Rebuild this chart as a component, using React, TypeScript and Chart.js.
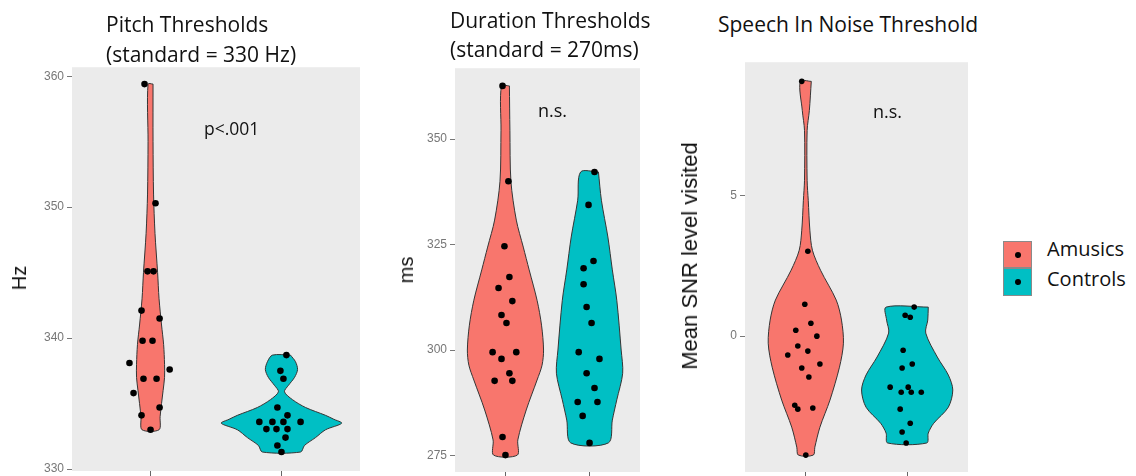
import React, { useEffect, useRef } from "react";
import { Chart, registerables } from "chart.js";

Chart.register(...registerables);

// ---------- data ----------
const groups = ["Amusics", "Controls"];
const groupFills = ["#F8766D", "#00BFC4"];

const pitchTicks = [330, 340, 350, 360];
const durationTicks = [275, 300, 325, 350];
const speechTicks = [0, 5];

// individual thresholds (y) with their horizontal jitter (category units)
const pitchAmusics = [359.4, 350.3, 345.1, 345.1, 342.1, 341.5, 339.8, 339.8, 338.1, 337.6, 336.9, 336.9, 335.8, 334.7, 334.1, 333.0];
const pitchAmusicsJitter = [-0.046, 0.038, -0.023, 0.023, -0.069, 0.069, -0.061, 0.015, -0.161, 0.146, -0.054, 0.046, -0.13, 0.069, -0.069, 0];
const pitchControls = [338.7, 337.5, 336.9, 334.7, 334.1, 333.6, 333.6, 333.6, 333.6, 333.05, 333.05, 333.05, 332.4, 331.8, 331.3];
const pitchControlsJitter = [0.038, -0.008, 0.015, -0.031, 0.046, -0.169, -0.069, 0.015, 0.146, -0.115, -0.038, 0.046, 0.031, -0.031, 0];

const durationAmusics = [362.6, 340.0, 324.6, 317.3, 314.7, 311.6, 308.3, 306.4, 299.5, 299.5, 297.9, 294.5, 292.7, 292.7, 279.4, 275.1];
const durationAmusicsJitter = [-0.035, 0.035, -0.012, 0.047, -0.082, 0.082, -0.047, 0.012, -0.153, 0.129, -0.047, 0.047, -0.129, 0.082, -0.035, 0];
const durationControls = [342.2, 334.4, 321.1, 319.4, 315.6, 310.2, 306.4, 299.5, 297.9, 294.5, 291.0, 287.7, 287.7, 284.4, 278.0];
const durationControlsJitter = [0.059, -0.012, 0.047, -0.071, -0.071, -0.035, 0.024, -0.129, 0.118, -0.035, 0.059, -0.141, 0.094, -0.082, 0];

const speechAmusics = [9.04, 3.01, 1.13, 0.46, 0.21, 0.0, -0.35, -0.53, -0.67, -0.99, -1.13, -1.45, -2.45, -2.55, -2.59, -4.22];
const speechAmusicsJitter = [-0.04, 0.02, -0.01, 0.05, -0.099, 0.109, -0.079, 0.02, -0.178, 0.139, -0.04, 0.03, -0.109, 0.069, -0.079, 0];
const speechControls = [1.03, 0.74, 0.67, -0.5, -0.99, -1.13, -1.81, -1.81, -1.99, -1.99, -1.99, -2.59, -3.09, -3.4, -3.79];
const speechControlsJitter = [0.069, -0.02, 0.03, -0.04, 0.05, -0.05, -0.168, 0.01, -0.059, 0.04, 0.139, -0.069, 0.03, -0.05, -0.01];

// violin outlines: density levels (y) and half-widths (category units)
const pitchAmusicsLevels = [359.4, 355, 351, 348, 345, 343, 341, 339.5, 338, 337, 336, 335, 334, 333.0];
const pitchAmusicsWidths = [0.019, 0.019, 0.023, 0.034, 0.054, 0.065, 0.084, 0.1, 0.107, 0.107, 0.096, 0.084, 0.073, 0.065];
const pitchControlsLevels = [338.7, 338.2, 337.6, 337.0, 336.4, 335.9, 335.3, 334.7, 334.1, 333.8, 333.5, 333.0, 332.4, 331.8, 331.3];
const pitchControlsWidths = [0.069, 0.107, 0.123, 0.1, 0.054, 0.023, 0.084, 0.184, 0.337, 0.4, 0.46, 0.337, 0.26, 0.176, 0.146];

const durationAmusicsLevels = [362.6, 352.1, 340, 330.8, 324.4, 319, 311.8, 305.9, 300, 296.4, 292.9, 285.8, 278.7, 275.1];
const durationAmusicsWidths = [0.047, 0.053, 0.065, 0.129, 0.212, 0.282, 0.376, 0.429, 0.453, 0.435, 0.376, 0.247, 0.147, 0.141];
const durationControlsLevels = [342.2, 335.5, 326.8, 319, 311.8, 300, 294.5, 288.2, 283.4, 278];
const durationControlsWidths = [0.106, 0.141, 0.218, 0.271, 0.324, 0.376, 0.394, 0.324, 0.271, 0.224];

const speechAmusicsLevels = [9.04, 8.01, 7.3, 5.53, 4.82, 3.76, 3.05, 2.34, 1.28, 0.57, -0.25, -1.1, -2.27, -3.23, -3.94, -4.22];
const speechAmusicsWidths = [0.054, 0.035, 0.013, 0.013, 0.024, 0.04, 0.065, 0.145, 0.3, 0.352, 0.371, 0.332, 0.238, 0.139, 0.089, 0.074];
const speechControlsLevels = [1.03, 0.57, 0.11, -0.74, -1.38, -1.91, -2.52, -3.09, -3.44, -3.79];
const speechControlsWidths = [0.208, 0.203, 0.183, 0.297, 0.406, 0.45, 0.406, 0.262, 0.208, 0.193];

// ---------- helpers ----------
function violinOutline(center: number, levels: number[], widths: number[]) {
  const right = levels.map((v, i) => ({ x: center + widths[i], y: v }));
  const left = levels.map((v, i) => ({ x: center - widths[i], y: v })).reverse();
  return [...right, ...left, right[0]];
}

function jittered(center: number, values: number[], jitter: number[]) {
  return values.map((v, i) => ({ x: center + jitter[i], y: v }));
}

const panelBg = {
  id: "panelBg",
  beforeDraw(chart: any) {
    const { ctx, chartArea: a } = chart;
    ctx.save();
    ctx.fillStyle = "#EBEBEB";
    ctx.fillRect(a.left, a.top, a.right - a.left, a.bottom - a.top);
    ctx.restore();
  },
};

type PanelCfg = {
  left: number; right: number; top: number; bottom: number;
  yMin: number; yMax: number; ticks: number[];
  values: number[][]; jitters: number[][];
  levels: number[][]; widths: number[][];
  radius: number;
};

const AXIS_W = 60;
const PAD_TOP = 10;
const PAD_RIGHT = 4;
const XAXIS_H = 30;

function Panel({ cfg }: { cfg: PanelCfg }) {
  const ref = useRef<HTMLCanvasElement | null>(null);
  const w = cfg.right - cfg.left + AXIS_W + PAD_RIGHT;
  const h = cfg.bottom - cfg.top + PAD_TOP + XAXIS_H;
  useEffect(() => {
    if (!ref.current) return;
    const datasets: any[] = [];
    groups.forEach((g, gi) => {
      const c = gi + 1;
      datasets.push({
        label: g + " points",
        data: jittered(c, cfg.values[gi], cfg.jitters[gi]),
        showLine: false,
        pointRadius: cfg.radius,
        pointHoverRadius: cfg.radius,
        pointBackgroundColor: "#000",
        pointBorderColor: "#000",
        pointBorderWidth: 0,
        order: 0,
      });
      datasets.push({
        label: g,
        data: violinOutline(c, cfg.levels[gi], cfg.widths[gi]),
        fill: "shape",
        backgroundColor: groupFills[gi],
        borderColor: "#353535",
        borderWidth: 1,
        pointRadius: 0,
        tension: 0.3,
        order: 1,
      });
    });
    const chart = new Chart(ref.current, {
      type: "line",
      data: { datasets },
      plugins: [panelBg],
      options: {
        animation: false,
        responsive: false,
        layout: { padding: { top: PAD_TOP, right: PAD_RIGHT, left: 0, bottom: 0 } },
        plugins: { legend: { display: false }, tooltip: { enabled: false }, title: { display: false } },
        scales: {
          x: {
            type: "linear",
            min: 0.4,
            max: 2.6,
            afterBuildTicks: (s: any) => { s.ticks = [{ value: 1 }, { value: 2 }]; },
            afterFit: (s: any) => { s.height = XAXIS_H; },
            ticks: { callback: () => "", font: { size: 1 } },
            grid: { drawOnChartArea: false, drawTicks: true, tickLength: 5, color: "#666" },
            border: { display: false },
          },
          y: {
            type: "linear",
            min: cfg.yMin,
            max: cfg.yMax,
            afterBuildTicks: (s: any) => { s.ticks = cfg.ticks.map((v) => ({ value: v })); },
            afterFit: (s: any) => { s.width = AXIS_W; },
            ticks: {
              color: "#777777",
              padding: 3,
              font: { family: "Liberation Sans", size: 12 },
              callback: (v: any) => String(v),
            },
            grid: { drawOnChartArea: false, drawTicks: true, tickLength: 5, color: "#777777" },
            border: { display: false },
          },
        },
      } as any,
    });
    return () => chart.destroy();
  }, []);
  return (
    <canvas
      ref={ref}
      width={w}
      height={h}
      style={{ position: "absolute", left: cfg.left - AXIS_W, top: cfg.top - PAD_TOP, width: w, height: h }}
    />
  );
}

const panels: PanelCfg[] = [
  {
    left: 72, right: 360, top: 67, bottom: 471, yMin: 329.85, yMax: 360.69, ticks: pitchTicks,
    values: [pitchAmusics, pitchControls], jitters: [pitchAmusicsJitter, pitchControlsJitter],
    levels: [pitchAmusicsLevels, pitchControlsLevels], widths: [pitchAmusicsWidths, pitchControlsWidths],
    radius: 3.3,
  },
  {
    left: 455, right: 640, top: 68, bottom: 472, yMin: 271.1, yMax: 366.8, ticks: durationTicks,
    values: [durationAmusics, durationControls], jitters: [durationAmusicsJitter, durationControlsJitter],
    levels: [durationAmusicsLevels, durationControlsLevels], widths: [durationAmusicsWidths, durationControlsWidths],
    radius: 3.3,
  },
  {
    left: 745, right: 968, top: 62, bottom: 472, yMin: -4.82, yMax: 9.72, ticks: speechTicks,
    values: [speechAmusics, speechControls], jitters: [speechAmusicsJitter, speechControlsJitter],
    levels: [speechAmusicsLevels, speechControlsLevels], widths: [speechAmusicsWidths, speechControlsWidths],
    radius: 2.8,
  },
];

const titleFont = "'Open Sans', 'Noto Sans', sans-serif";
const axisFont = "'Liberation Sans', Arial, sans-serif";

function Title({ lines, left, top, lh }: { lines: string[]; left: number; top: number; lh: number }) {
  return (
    <div style={{ position: "absolute", left, top, fontFamily: titleFont, fontSize: 21, lineHeight: lh + "px", color: "#111", whiteSpace: "nowrap" }}>
      {lines.map((l, i) => (<div key={i}>{l}</div>))}
    </div>
  );
}

function YLabel({ text, cx, cy, size }: { text: string; cx: number; cy: number; size: number }) {
  return (
    <div style={{ position: "absolute", left: cx, top: cy, transform: "translate(-50%, -50%) rotate(-90deg)", fontFamily: axisFont, fontSize: size, lineHeight: 1, color: "#111", whiteSpace: "nowrap" }}>
      {text}
    </div>
  );
}

function Note({ text, left, top, size }: { text: string; left: number; top: number; size: number }) {
  return (
    <div style={{ position: "absolute", left, top, fontFamily: titleFont, fontSize: size, lineHeight: 1, color: "#111", whiteSpace: "nowrap" }}>
      {text}
    </div>
  );
}

export default function App() {
  return (
    <div style={{ position: "absolute", left: 0, top: 0, width: 1136, height: 476, overflow: "hidden", background: "#fff" }}>
      {panels.map((p, i) => (<Panel key={i} cfg={p} />))}
      <Title lines={["Pitch Thresholds", "(standard = 330 Hz)"]} left={106} top={8.5} lh={30} />
      <Title lines={["Duration Thresholds", "(standard = 270ms)"]} left={450} top={5.7} lh={29} />
      <Title lines={["Speech In Noise Threshold"]} left={718} top={8.5} lh={30} />
      <YLabel text="Hz" cx={19} cy={278} size={20} />
      <YLabel text="ms" cx={406} cy={270} size={20} />
      <YLabel text="Mean SNR level visited" cx={690} cy={256} size={22} />
      <Note text="p<.001" left={204} top={119.5} size={17.5} />
      <Note text="n.s." left={538} top={101} size={18} />
      <Note text="n.s." left={873} top={102} size={18} />
      {groups.map((g, i) => (
        <React.Fragment key={g}>
          <div style={{ position: "absolute", left: 1003, top: 241 + i * 27, width: 29, height: 27 + i, boxSizing: "border-box", border: "1px solid #8a8a8a", background: groupFills[i] }}>
            <div style={{ position: "absolute", left: "50%", top: "50%", width: 6, height: 6, marginLeft: -3, marginTop: -3, borderRadius: "50%", background: "#000" }} />
          </div>
          <div style={{ position: "absolute", left: 1047, top: 239 + i * 30, fontFamily: titleFont, fontSize: 20, lineHeight: 1, color: "#111", whiteSpace: "nowrap" }}>
            {g}
          </div>
        </React.Fragment>
      ))}
    </div>
  );
}
